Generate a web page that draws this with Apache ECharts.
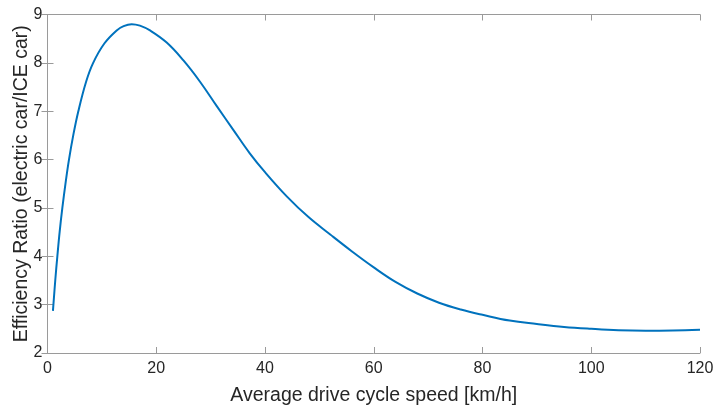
<!DOCTYPE html>
<html>
<head>
<meta charset="utf-8">
<script src="https://cdn.jsdelivr.net/npm/echarts@6/dist/echarts.min.js"></script>
<style>
html,body{margin:0;padding:0;background:#fff;}
#c{width:713px;height:405px;}
</style>
</head>
<body>
<div id="c"></div>
<script>
var speeds = [1.0, 1.44, 1.81, 2.24, 2.73, 3.35, 3.95, 4.75, 5.67, 7.1, 8.4, 10.45, 12.72, 14.0, 15.48, 17.0, 18.85, 21.92, 25.0, 28.05, 31.1, 34.2, 37.2, 40, 44, 48, 52, 56, 60, 64, 68, 72, 76, 80, 85, 90, 95, 100, 105, 110, 115, 120];
var ratios = [2.87, 3.52, 4.0, 4.51, 5.0, 5.54, 6.0, 6.51, 7.0, 7.61, 8.0, 8.40, 8.67, 8.76, 8.80, 8.77, 8.67, 8.42, 8.05, 7.61, 7.11, 6.61, 6.13, 5.74, 5.24, 4.81, 4.45, 4.10, 3.77, 3.47, 3.23, 3.04, 2.90, 2.79, 2.67, 2.60, 2.54, 2.50, 2.47, 2.46, 2.465, 2.48];
var xTicks = [0, 20, 40, 60, 80, 100, 120];
var yTicks = [2, 3, 4, 5, 6, 7, 8, 9];
var xTitle = 'Average drive cycle speed [km/h]';
var yTitle = 'Efficiency Ratio (electric car/ICE car)';

var pts = speeds.map(function (s, i) { return [s, ratios[i]]; });
var font = 'Liberation Sans, Arial, Helvetica, sans-serif';
var axisCol = '#9a9a9a';
var txtCol = '#262626';

var chart = echarts.init(document.getElementById('c'), null, {renderer: 'canvas'});
chart.setOption({
  animation: false,
  backgroundColor: '#fff',
  grid: {left: 47.5, right: 13, top: 14.5, bottom: 52, containLabel: false, outerBoundsMode: 'none'},
  xAxis: [{
    type: 'value', min: xTicks[0], max: xTicks[xTicks.length - 1], interval: 20,
    position: 'bottom',
    name: xTitle, nameLocation: 'middle', nameGap: 33, nameMoveOverlap: false,
    nameTextStyle: {fontFamily: font, fontSize: 19.5, color: txtCol},
    axisLine: {show: true, lineStyle: {color: axisCol, width: 1}},
    axisTick: {show: true, inside: true, length: 6, lineStyle: {color: axisCol}},
    axisLabel: {fontFamily: font, fontSize: 16, color: txtCol, margin: 8},
    splitLine: {show: false}
  }, {
    type: 'value', min: xTicks[0], max: xTicks[xTicks.length - 1], interval: 20,
    position: 'top',
    axisLine: {show: true, lineStyle: {color: axisCol, width: 1}},
    axisTick: {show: true, inside: true, length: 6, lineStyle: {color: axisCol}},
    axisLabel: {show: false},
    splitLine: {show: false}
  }],
  yAxis: [{
    type: 'value', min: yTicks[0], max: yTicks[yTicks.length - 1], interval: 1,
    position: 'left',
    name: yTitle, nameLocation: 'middle', nameGap: 16, nameMoveOverlap: false,
    nameTextStyle: {fontFamily: font, fontSize: 19.5, color: txtCol},
    axisLine: {show: true, lineStyle: {color: axisCol, width: 1}},
    axisTick: {show: true, inside: true, length: 6, lineStyle: {color: axisCol}},
    axisLabel: {fontFamily: font, fontSize: 16, color: txtCol, margin: 5},
    splitLine: {show: false}
  }, {
    type: 'value', min: yTicks[0], max: yTicks[yTicks.length - 1], interval: 1,
    position: 'right',
    axisLine: {show: true, lineStyle: {color: axisCol, width: 1}},
    axisTick: {show: true, inside: true, length: 6, lineStyle: {color: axisCol}},
    axisLabel: {show: false},
    splitLine: {show: false}
  }],
  series: [{
    type: 'line',
    xAxisIndex: 0, yAxisIndex: 0,
    data: pts,
    smooth: 0.4,
    showSymbol: false,
    lineStyle: {color: '#0072BD', width: 2}
  }]
});
</script>
</body>
</html>
